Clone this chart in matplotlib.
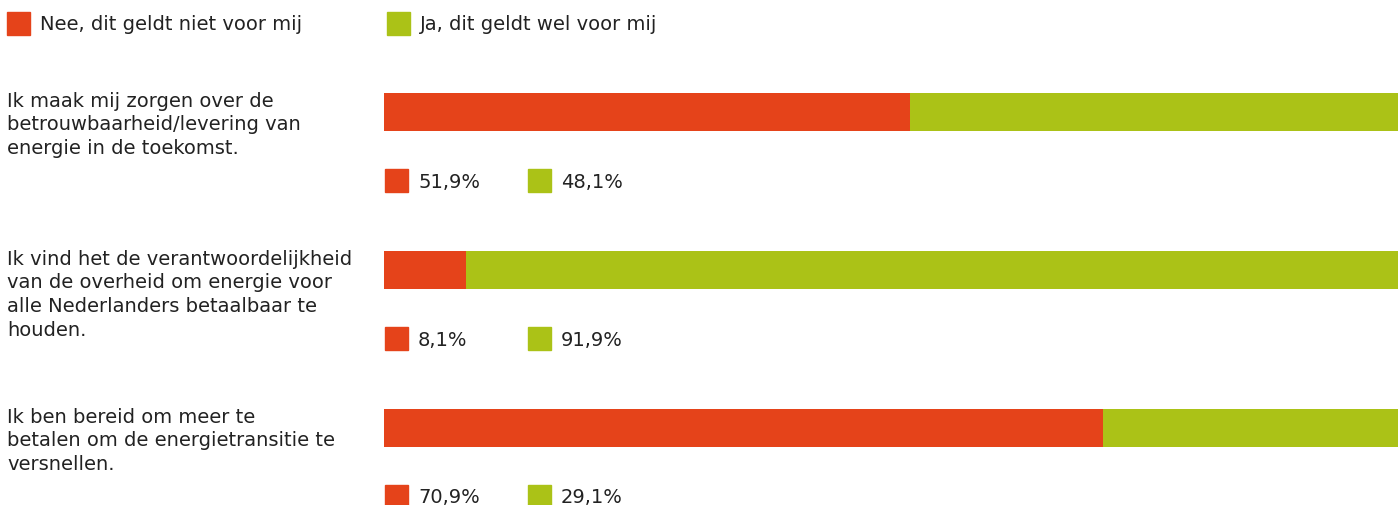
import matplotlib
matplotlib.use('Agg')
import matplotlib.pyplot as plt
from matplotlib.patches import Rectangle

statements = [
    'Ik maak mij zorgen over de\nbetrouwbaarheid/levering van\nenergie in de toekomst.',
    'Ik vind het de verantwoordelijkheid\nvan de overheid om energie voor\nalle Nederlanders betaalbaar te\nhouden.',
    'Ik ben bereid om meer te\nbetalen om de energietransitie te\nversnellen.',
]
nee = [51.9, 8.1, 70.9]
ja = [48.1, 91.9, 29.1]
series_names = ['Nee, dit geldt niet voor mij', 'Ja, dit geldt wel voor mij']

RED = '#E5431A'
GREEN = '#ABC217'
TXT = '#222222'
FONT = 'DejaVu Sans'
FS = 14

W, H = 1398, 506
fig = plt.figure(figsize=(W / 100, H / 100), dpi=100)
x0 = 384
ax = fig.add_axes([x0 / W, 0, 1 - x0 / W, 1])
ax.set_xlim(0, 100)
ax.set_ylim(H, 0)  # y in pixels from top
ax.axis('off')

first_top, step, bar_h = 94, 158, 38
px = 100 / (W - x0)  # one pixel in x data units

for i, (label, n, j) in enumerate(zip(statements, nee, ja)):
    top = first_top + step * i
    yc = top + bar_h / 2
    ax.barh(yc, n, height=bar_h, color=RED, left=0)
    ax.barh(yc, j, height=bar_h, left=n, color=GREEN)
    fig.text(7 / W, 1 - (top - 2) / H, label, ha='left', va='top',
             fontsize=FS, family=FONT, color=TXT, linespacing=1.3)
    # small value legend under each bar
    sq_top = top + 76
    for k, (val, col) in enumerate([(n, RED), (j, GREEN)]):
        sx = (1 + 143 * k) * px
        ax.add_patch(Rectangle((sx, sq_top), 23 * px, 23, color=col, clip_on=False))
        ax.text(sx + 33 * px, sq_top + 12, f'{val:.1f}%'.replace('.', ','),
                ha='left', va='center', fontsize=FS, family=FONT, color=TXT)

# top legend
for k, (name, col) in enumerate(zip(series_names, [RED, GREEN])):
    lx = [7, 387][k]
    fig.patches.append(Rectangle((lx / W, 1 - 36 / H), 23 / W, 23 / H,
                                 transform=fig.transFigure, color=col))
    fig.text((lx + 33) / W, 1 - 24.5 / H, name, ha='left', va='center',
             fontsize=FS, family=FONT, color=TXT)

fig.savefig('out.png', dpi=100)
